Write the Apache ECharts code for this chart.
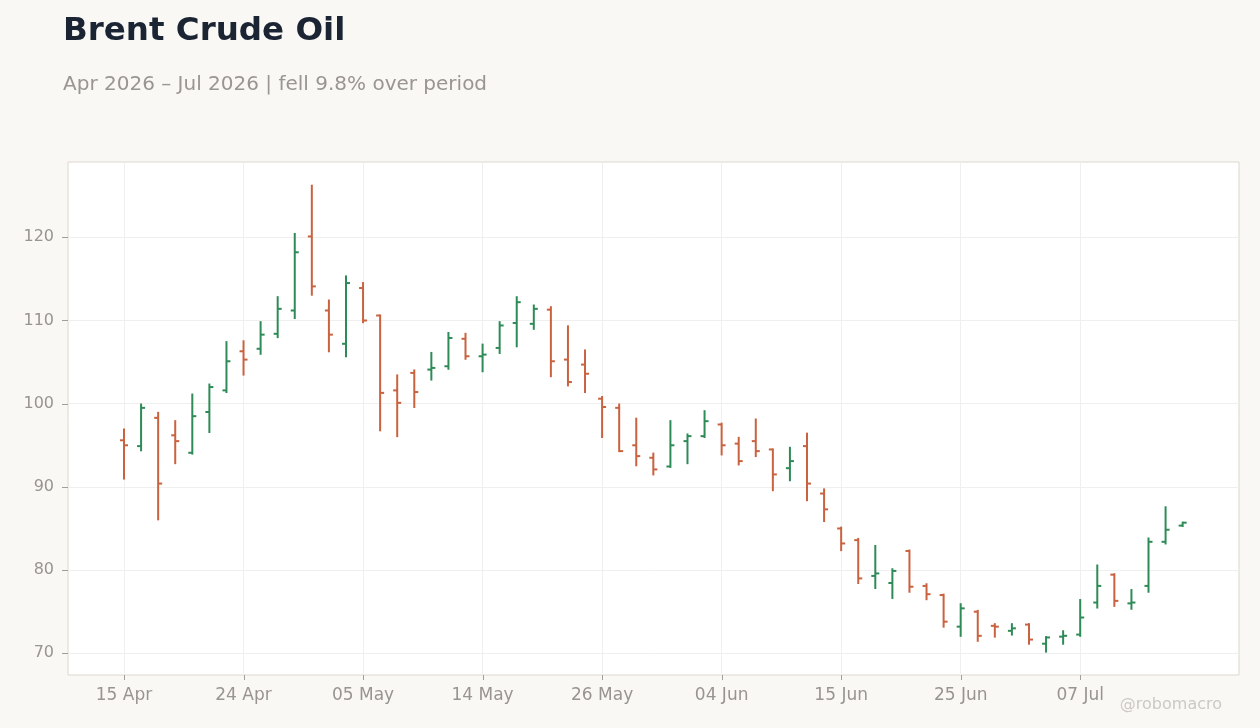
<!DOCTYPE html>
<html>
<head>
<meta charset="utf-8">
<script src="https://cdn.jsdelivr.net/npm/echarts@6/dist/echarts.min.js"></script>
<style>
html,body{margin:0;padding:0;background:#f9f8f5;}
#chart{width:1260px;height:728px;}
</style>
</head>
<body>
<div id="chart"></div>
<script>
const DATES = ['15 Apr','16 Apr','17 Apr','20 Apr','21 Apr','22 Apr','23 Apr','24 Apr','27 Apr','28 Apr','29 Apr','30 Apr','01 May','04 May','05 May','06 May','07 May','08 May','11 May','12 May','13 May','14 May','15 May','18 May','19 May','20 May','21 May','22 May','26 May','27 May','28 May','29 May','01 Jun','02 Jun','03 Jun','04 Jun','05 Jun','08 Jun','09 Jun','10 Jun','11 Jun','12 Jun','15 Jun','16 Jun','17 Jun','18 Jun','22 Jun','23 Jun','24 Jun','25 Jun','26 Jun','29 Jun','30 Jun','01 Jul','02 Jul','06 Jul','07 Jul','08 Jul','09 Jul','10 Jul','13 Jul','14 Jul','15 Jul'];
const OPEN  = [95.6,94.9,98.3,96.2,94.1,99.0,101.6,106.3,106.6,108.4,111.2,120.1,111.2,107.2,113.9,110.6,101.6,103.7,104.1,104.5,107.8,105.7,106.7,109.7,109.6,111.3,105.3,104.7,100.6,99.5,95.0,93.5,92.45,95.5,96.1,97.5,95.2,95.5,94.5,92.25,94.9,89.2,85.0,83.6,79.3,78.45,82.3,78.1,77.0,73.2,75.0,73.3,72.7,73.45,71.15,72.0,72.25,76.1,79.45,76.0,78.1,83.4,85.35];
const HIGH  = [96.9,99.9,98.9,97.9,101.1,102.3,107.4,107.5,109.8,112.8,120.4,126.2,112.4,115.3,114.5,110.6,103.4,104.0,106.1,108.5,108.4,107.1,109.8,112.8,111.8,111.6,109.3,106.4,100.8,99.9,98.2,94.0,97.9,96.3,99.1,97.6,95.9,98.1,94.5,94.7,96.4,89.7,85.1,83.75,82.9,80.1,82.35,78.3,77.05,75.9,75.1,73.5,73.5,73.5,71.95,72.65,76.4,80.55,79.5,77.6,83.8,87.55,85.7];
const LOW   = [91.0,94.4,86.1,92.85,94.0,96.6,101.4,103.5,106.0,108.0,110.3,113.1,106.3,105.7,109.8,96.8,96.1,99.6,102.9,104.2,105.4,103.9,106.1,106.9,109.0,103.3,102.2,101.4,96.0,94.3,92.6,91.5,92.4,92.85,96.0,93.9,92.7,93.7,89.6,90.8,88.4,85.9,82.4,78.45,77.85,76.65,77.4,76.5,73.2,72.1,71.5,72.0,72.25,71.15,70.2,71.15,72.1,75.5,75.7,75.35,77.4,83.2,85.3];
const CLOSE = [95.0,99.5,90.4,95.5,98.5,102.0,105.1,105.3,108.3,111.4,118.2,114.1,108.3,114.5,110.0,101.3,100.1,101.4,104.3,107.9,105.7,105.9,109.4,112.2,111.4,105.1,102.6,103.6,99.6,94.3,93.7,92.1,95.0,96.1,97.9,95.0,93.1,94.3,91.5,93.1,90.4,87.3,83.2,79.0,79.6,79.9,78.0,77.1,73.8,75.4,72.1,73.2,73.0,71.65,71.9,72.1,74.3,78.1,76.3,76.1,83.4,84.85,85.7];
const X_TICKS = [0,7,14,21,28,35,42,49,56];
const Y_TICKS = [70,80,90,100,110,120];
const TITLE = 'Brent Crude Oil';
const SUBTITLE = 'Apr 2026 \u2013 Jul 2026 | fell 9.8% over period';

const GREEN = '#2e8b57';
const RED = '#c9623f';
const FONT = 'DejaVu Sans';
const BORDER = '#ddd7ce';
const TICK = '#a39e99';

const data = OPEN.map((o, i) => [i, o, HIGH[i], LOW[i], CLOSE[i]]);

const chart = echarts.init(document.getElementById('chart'), null, {renderer: 'canvas'});
chart.setOption({
  backgroundColor: '#f9f8f5',
  animation: false,
  title: [
    {text: TITLE, left: 63, top: 15, padding: 0, textStyle: {fontFamily: FONT, fontSize: 32.5, fontWeight: 'bold', color: '#1b2433'}},
    {text: SUBTITLE, left: 63, top: 75, padding: 0, textStyle: {fontFamily: FONT, fontSize: 20, fontWeight: 'normal', color: '#9a9591'}}
  ],
  grid: {left: 68, top: 162, width: 1171, height: 513, show: true, backgroundColor: '#ffffff', borderColor: BORDER, borderWidth: 1},
  xAxis: {
    type: 'value', min: -3.28, max: 65.3,
    axisLine: {show: false, onZero: false},
    axisTick: {show: false, customValues: X_TICKS},
    axisLabel: {customValues: X_TICKS, formatter: v => DATES[Math.round(v)] || '', fontFamily: FONT, fontSize: 17, color: '#999490', margin: 12},
    splitLine: {show: true, lineStyle: {color: '#efefef', width: 1}}
  },
  yAxis: {
    type: 'value', min: 67.39, max: 129.05,
    axisLine: {show: false, onZero: false},
    axisTick: {show: false, customValues: Y_TICKS},
    axisLabel: {customValues: Y_TICKS, fontFamily: FONT, fontSize: 16, color: '#999490', margin: 14},
    splitLine: {show: true, lineStyle: {color: '#efefef', width: 1}}
  },
  series: [{
    type: 'custom',
    data: data,
    encode: {x: 0, y: [1, 2, 3, 4]},
    renderItem: function (params, api) {
      const x = api.value(0), o = api.value(1), h = api.value(2), l = api.value(3), c = api.value(4);
      const pH = api.coord([x, h]), pL = api.coord([x, l]), pO = api.coord([x, o]), pC = api.coord([x, c]);
      const color = c >= o ? GREEN : RED;
      const st = {stroke: color, lineWidth: 2};
      const w = 4;
      return {type: 'group', children: [
        {type: 'line', shape: {x1: pH[0], y1: pH[1] - 1, x2: pL[0], y2: pL[1] + 1}, style: st},
        {type: 'line', shape: {x1: pO[0] - w, y1: pO[1], x2: pO[0], y2: pO[1]}, style: st},
        {type: 'line', shape: {x1: pC[0], y1: pC[1], x2: pC[0] + w, y2: pC[1]}, style: st}
      ]};
    }
  }]
});

// axis tick marks placed through the library's own scales
const gl = 68, gb = 675;
const ticks = [];
X_TICKS.forEach(v => {
  const px = Math.round(chart.convertToPixel({xAxisIndex: 0}, v)) + 0.5;
  ticks.push({type: 'line', silent: true, shape: {x1: px, y1: gb, x2: px, y2: gb + 5}, style: {stroke: TICK, lineWidth: 1}});
});
Y_TICKS.forEach(v => {
  const py = Math.round(chart.convertToPixel({yAxisIndex: 0}, v)) + 0.5;
  ticks.push({type: 'line', silent: true, shape: {x1: gl - 6, y1: py, x2: gl, y2: py}, style: {stroke: TICK, lineWidth: 1}});
});
ticks.push({type: 'text', right: 38, top: 697, style: {text: '@robomacro', fontFamily: FONT, fontSize: 16, fill: '#cdc9c4'}});
chart.setOption({graphic: ticks});
</script>
</body>
</html>
